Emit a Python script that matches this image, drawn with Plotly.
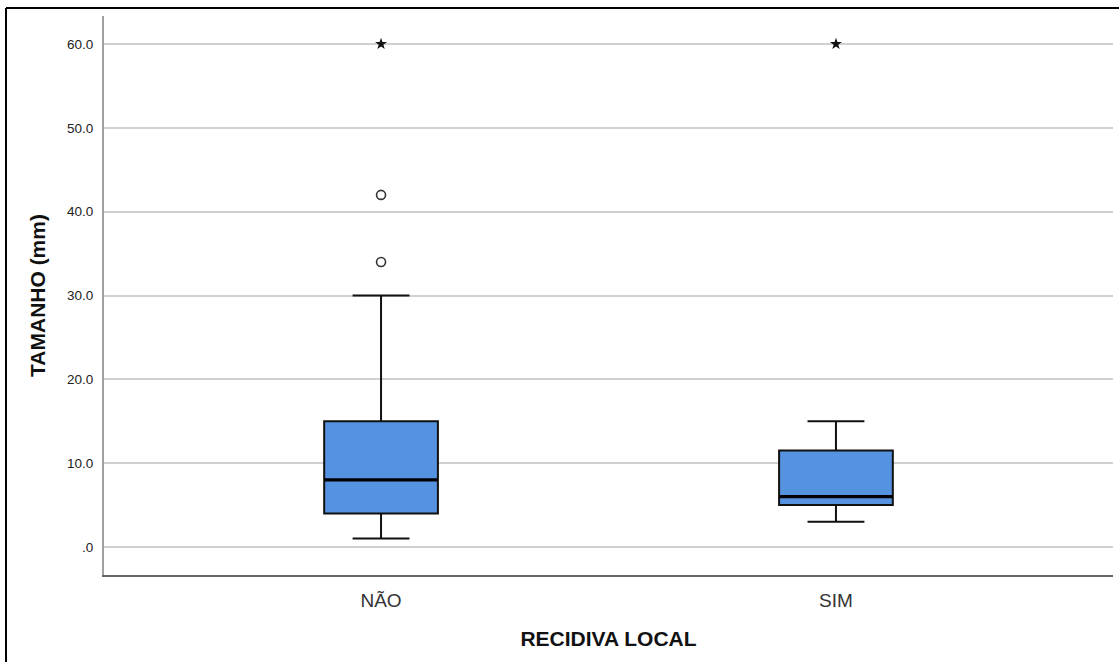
import plotly.graph_objects as go

# Summary statistics per group (mm)
categories = ["NÃO", "SIM"]
q1 = [4.0, 5.0]
median = [8.0, 6.0]
q3 = [15.0, 11.5]
whisker_low = [1.0, 3.0]
whisker_high = [30.0, 15.0]

# Outliers (open circles) and extreme values (stars)
outlier_group = [0, 0]
outlier_value = [42.0, 34.0]
extreme_group = [0, 1]
extreme_value = [60.0, 60.0]

y_ticks = [0, 10, 20, 30, 40, 50, 60]
y_tick_labels = [".0", "10.0", "20.0", "30.0", "40.0", "50.0", "60.0"]

W, H = 1119, 662
L, R, T, B = 104, 6, 16, 87
pw, ph = W - L - R, H - T - B
BOX_W = 0.25

fig = go.Figure()

fig.add_trace(go.Box(
    x=list(range(len(categories))),
    q1=q1, median=median, q3=q3,
    lowerfence=whisker_low, upperfence=whisker_high,
    boxpoints=False,
    width=BOX_W,
    whiskerwidth=0.5,
    fillcolor="#5592E0",
    line=dict(color="#111111", width=2),
    showlegend=False,
    hoverinfo="skip",
))

# Heavier median line across each box
for i, m in enumerate(median):
    fig.add_trace(go.Scatter(
        x=[i - BOX_W / 2, i + BOX_W / 2], y=[m, m], mode="lines",
        line=dict(color="#000000", width=3.2),
        showlegend=False, hoverinfo="skip",
    ))

fig.add_trace(go.Scatter(
    x=outlier_group, y=outlier_value, mode="markers",
    marker=dict(symbol="circle-open", size=9, color="#333333",
                line=dict(width=1.6, color="#333333")),
    showlegend=False,
))

fig.add_trace(go.Scatter(
    x=extreme_group, y=extreme_value, mode="markers",
    marker=dict(symbol="star", size=9, color="#111111",
                line=dict(width=0)),
    showlegend=False,
))

# Outer frame (left and top edges)
frame_x = (6 - L) / pw
frame_top = 1 + (T - 8) / ph
fig.add_shape(type="line", xref="paper", yref="paper",
              x0=frame_x, x1=1.1, y0=frame_top, y1=frame_top,
              line=dict(color="#000000", width=2))
fig.add_shape(type="line", xref="paper", yref="paper",
              x0=frame_x, x1=frame_x, y0=frame_top, y1=-0.3,
              line=dict(color="#000000", width=2))

fig.update_layout(
    width=W, height=H,
    margin=dict(l=L, r=R, t=T, b=B),
    paper_bgcolor="white",
    plot_bgcolor="white",
    font=dict(family="Liberation Sans, Arial, sans-serif", color="#222222"),
    xaxis=dict(
        range=[-0.609, 1.609],
        tickmode="array",
        tickvals=list(range(len(categories))),
        ticktext=categories,
        tickfont=dict(size=19, color="#333333"),
        showgrid=False, zeroline=False,
        showline=True, linecolor="#666666", linewidth=2,
        ticks="", ticklabelstandoff=7,
        title=dict(text="<b>RECIDIVA LOCAL</b>", font=dict(size=21, color="#111111"),
                   standoff=22),
    ),
    yaxis=dict(
        range=[-3.34, 63.34],
        tickmode="array",
        tickvals=y_ticks,
        ticktext=y_tick_labels,
        tickfont=dict(size=13.5, color="#222222"),
        showgrid=True, gridcolor="#D0D0D0", gridwidth=1.5,
        zeroline=False,
        showline=True, linecolor="#A0A0A0", linewidth=2,
        ticks="", ticklabelstandoff=6,
        title=dict(text="<b>TAMANHO (mm)</b>", font=dict(size=21, color="#111111"),
                   standoff=16),
    ),
)

fig.write_html("out.html")
